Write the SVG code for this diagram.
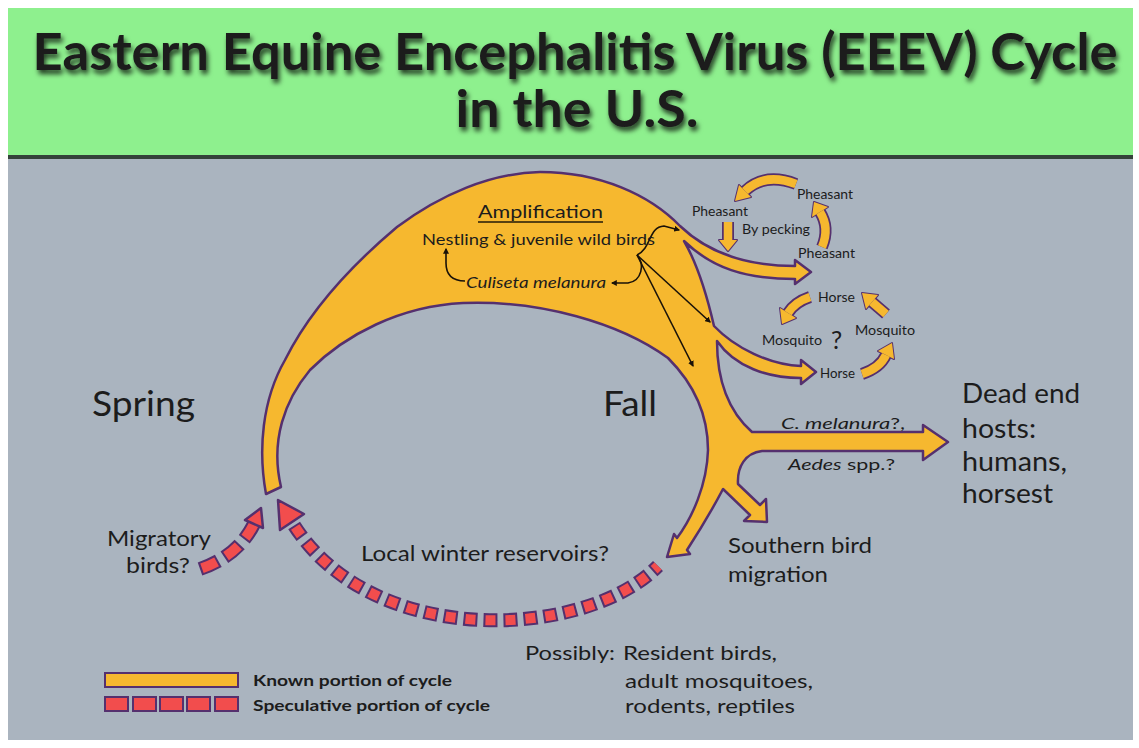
<svg xmlns="http://www.w3.org/2000/svg" width="1139" height="748" viewBox="0 0 1139 748">
<style>
.t{font-family:Lato,"Liberation Sans",sans-serif;fill:#1c1c1c}
.b{font-weight:bold}
.i{font-style:italic}
.yel{fill:#f6b82f;stroke:#55306e;stroke-width:2.5;stroke-linejoin:round}
.so{fill:none;stroke:#55306e;stroke-width:12}
.si{fill:none;stroke:#f6b82f;stroke-width:8.5}
.hd{fill:#f6b82f;stroke:#55306e;stroke-width:2;stroke-linejoin:round}
.hf{fill:#f6b82f}
.ro{fill:none;stroke:#55306e;stroke-width:14}
.ri{fill:none;stroke:#f24d4d;stroke-width:10}
.rh{fill:#f24d4d;stroke:#55306e;stroke-width:2.5;stroke-linejoin:round}
.bk{fill:none;stroke:#1a1208;stroke-width:1.6;marker-end:url(#ah)}
</style>
<defs>
<filter id="ts" x="-5%" y="-30%" width="110%" height="160%">
<feDropShadow dx="2" dy="4" stdDeviation="2.5" flood-color="#000" flood-opacity="0.75"/>
</filter>
<marker id="ah" viewBox="0 0 10 10" refX="8" refY="5" markerWidth="6" markerHeight="6" markerUnits="userSpaceOnUse" orient="auto">
<path d="M0,0 L10,5 L0,10 Z" fill="#1a1208"/>
</marker>
<polygon id="h1" points="751,197 739,185 735,201"/>
<polygon id="h2" points="719,240 737,240 728,251"/>
<polygon id="h3" points="828,207 812,217 814,202"/>
<polygon id="h4" points="796,318 780,308 782,324"/>
<polygon id="h5" points="878,295 866,309 862,293"/>
<polygon id="h6" points="894,359 878,351 892,343"/>
</defs>

<!-- background -->
<rect x="0" y="0" width="1139" height="748" fill="#ffffff"/>
<rect x="8" y="158" width="1125" height="582" fill="#aab4bf"/>
<rect x="8" y="8" width="1125" height="150" fill="#8ef08e"/>
<rect x="8" y="155" width="1125" height="4" fill="#34423a"/>

<g id="title" filter="url(#ts)">
<text class="t b" x="575" y="70" font-size="52" text-anchor="middle" textLength="1085" lengthAdjust="spacingAndGlyphs" fill="#111">Eastern Equine Encephalitis Virus (EEEV) Cycle</text>
<text class="t b" x="577" y="127" font-size="52" text-anchor="middle" textLength="243" lengthAdjust="spacingAndGlyphs" fill="#111">in the U.S.</text>
</g>

<g id="connectors">
<!-- main known cycle -->
<path id="main-cycle" class="yel" d="M266,494 C258,450 262,400 285,360 C305,320 340,275 397,227 C440,195 490,173 540,172 C600,172 650,195 680,226 C705,250 740,266 795,266 L795,260 L811,272 L795,284 L795,279 C745,279 712,268 684,241 C698,265 708,300 714,326 C735,348 770,365 801,366 L801,360 L816,372 L801,384 L801,378 C768,378 735,367 717,341 C717,380 727,410 752,432 L923,432 L923,425 L948,442 L923,460 L923,451 L762,451 C745,453 737,467 738,484 L760,505 L766,499 L767,522 L744,521 L750,515 L723,489 C712,510 700,530 687,550 L690,554 L667,557 L674,534 L677,538 C692,518 707,485 708,450 C708,415 695,385 668,358 C620,323 540,300 463,303 C400,306 345,335 310,370 C285,400 270,440 281,487 Z"/>

<!-- pheasant cycle -->
<g id="pheasant-arrows">
<path class="so" d="M796,184 Q765,172 745,191"/>
<path class="so" d="M728,222 L728,240"/>
<path class="so" d="M822,247 Q830,228 820,212"/>
<use href="#h1" class="hd"/><use href="#h2" class="hd"/><use href="#h3" class="hd"/>
<path class="si" d="M796,184 Q765,172 745,191"/>
<path class="si" d="M728,222 L728,240"/>
<path class="si" d="M822,247 Q830,228 820,212"/>
<use href="#h1" class="hf"/><use href="#h2" class="hf"/><use href="#h3" class="hf"/>
</g>

<!-- horse / mosquito cycle -->
<g id="horse-arrows">
<path class="so" d="M810,297 Q795,302 788,313"/>
<path class="so" d="M886,314 L872,302"/>
<path class="so" d="M862,374 Q880,368 886,355"/>
<use href="#h4" class="hd"/><use href="#h5" class="hd"/><use href="#h6" class="hd"/>
<path class="si" d="M810,297 Q795,302 788,313"/>
<path class="si" d="M886,314 L872,302"/>
<path class="si" d="M862,374 Q880,368 886,355"/>
<use href="#h4" class="hf"/><use href="#h5" class="hf"/><use href="#h6" class="hf"/>
</g>

<!-- speculative dashed arrows -->
<g id="winter-arrow">
<path class="ro" d="M292,522 C370,650 585,640 658,566" stroke-dasharray="14 6" stroke-dashoffset="-4"/>
<path class="ri" d="M292,522 C370,650 585,640 658,566" stroke-dasharray="10 10" stroke-dashoffset="-6"/>
<polygon class="rh" points="304,514 280,530 278,500"/>
</g>
<g id="migratory-arrow">
<path class="ro" d="M200,569 Q238,556 254,524" stroke-width="13" stroke-dasharray="20 7"/>
<path class="ri" d="M200,569 Q238,556 254,524" stroke-width="9" stroke-dasharray="16 11" stroke-dashoffset="-2"/>
<polygon class="rh" points="263,528 245,520 261,508"/>
</g>

<!-- black arrows -->
<g id="black-arrows">
<path class="bk" d="M637,255 C652,248 648,227 664,226 L679,230"/>
<path class="bk" d="M637,255 C645,264 642,281 628,283 L612,283"/>
<path class="bk" d="M637,255 L710,322"/>
<path class="bk" d="M637,255 L693,366"/>
<path class="bk" d="M465,281 C452,281 446,275 446,263 L446,249"/>
</g>
</g>

<g id="amplification">
<text class="t" x="478" y="218" font-size="18" textLength="125" lengthAdjust="spacingAndGlyphs" fill="#221a08">Amplification</text>
<line x1="478" y1="222" x2="603" y2="222" stroke="#221a08" stroke-width="1.3"/>
<text class="t" x="422" y="245" font-size="15" textLength="233" lengthAdjust="spacingAndGlyphs" fill="#221a08">Nestling &amp; juvenile wild birds</text>
<text class="t i" x="466" y="288" font-size="15" textLength="140" lengthAdjust="spacingAndGlyphs" fill="#221a08">Culiseta melanura</text>
</g>

<g id="pheasant-labels">
<text class="t" x="692" y="216" font-size="12.5" textLength="56" lengthAdjust="spacingAndGlyphs">Pheasant</text>
<text class="t" x="797" y="199" font-size="12.5" textLength="56" lengthAdjust="spacingAndGlyphs">Pheasant</text>
<text class="t" x="742" y="234" font-size="12.5" textLength="68" lengthAdjust="spacingAndGlyphs">By pecking</text>
<text class="t" x="798" y="258" font-size="12.5" textLength="57" lengthAdjust="spacingAndGlyphs">Pheasant</text>
</g>

<g id="horse-labels">
<text class="t" x="818" y="302" font-size="12.5" textLength="37" lengthAdjust="spacingAndGlyphs">Horse</text>
<text class="t" x="762" y="345" font-size="12.5" textLength="60" lengthAdjust="spacingAndGlyphs">Mosquito</text>
<text class="t" x="831" y="349" font-size="25">?</text>
<text class="t" x="855" y="335" font-size="12.5" textLength="60" lengthAdjust="spacingAndGlyphs">Mosquito</text>
<text class="t" x="820" y="378" font-size="12.5" textLength="35" lengthAdjust="spacingAndGlyphs">Horse</text>
</g>

<g id="seasons">
<text class="t" x="92" y="416" font-size="34" textLength="103" lengthAdjust="spacingAndGlyphs">Spring</text>
<text class="t" x="603" y="416" font-size="34" textLength="54" lengthAdjust="spacingAndGlyphs">Fall</text>
</g>

<g id="vectors">
<text class="t" x="781" y="429" font-size="16" textLength="124" lengthAdjust="spacingAndGlyphs"><tspan class="i">C. melanura</tspan>?,</text>
<text class="t" x="788" y="470" font-size="16" textLength="107" lengthAdjust="spacingAndGlyphs"><tspan class="i">Aedes</tspan> spp.?</text>
</g>

<g id="dead-end">
<text class="t" x="962" y="403" font-size="26" textLength="118" lengthAdjust="spacingAndGlyphs">Dead end</text>
<text class="t" x="962" y="438" font-size="26" textLength="74" lengthAdjust="spacingAndGlyphs">hosts:</text>
<text class="t" x="962" y="471" font-size="26" textLength="105" lengthAdjust="spacingAndGlyphs">humans,</text>
<text class="t" x="962" y="503" font-size="26" textLength="91" lengthAdjust="spacingAndGlyphs">horsest</text>
</g>

<g id="southern">
<text class="t" x="728" y="553" font-size="21" textLength="144" lengthAdjust="spacingAndGlyphs">Southern bird</text>
<text class="t" x="728" y="582" font-size="21" textLength="100" lengthAdjust="spacingAndGlyphs">migration</text>
</g>

<g id="migratory">
<text class="t" x="107" y="546" font-size="21" textLength="104" lengthAdjust="spacingAndGlyphs">Migratory</text>
<text class="t" x="126" y="573" font-size="21" textLength="64" lengthAdjust="spacingAndGlyphs">birds?</text>
</g>

<g id="winter">
<text class="t" x="361" y="561" font-size="21" textLength="248" lengthAdjust="spacingAndGlyphs">Local winter reservoirs?</text>
</g>

<g id="possibly">
<text class="t" x="525" y="660" font-size="19" textLength="90" lengthAdjust="spacingAndGlyphs">Possibly:</text>
<text class="t" x="623" y="660" font-size="19" textLength="154" lengthAdjust="spacingAndGlyphs">Resident birds,</text>
<text class="t" x="625" y="688" font-size="19" textLength="188" lengthAdjust="spacingAndGlyphs">adult mosquitoes,</text>
<text class="t" x="625" y="713" font-size="19" textLength="170" lengthAdjust="spacingAndGlyphs">rodents, reptiles</text>
</g>

<g id="legend">
<rect x="105" y="673" width="133" height="14" fill="#f6b82f" stroke="#55306e" stroke-width="2"/>
<rect x="105" y="697" width="23" height="14" fill="#f24d4d" stroke="#55306e" stroke-width="2"/>
<rect x="133" y="697" width="23" height="14" fill="#f24d4d" stroke="#55306e" stroke-width="2"/>
<rect x="160" y="697" width="23" height="14" fill="#f24d4d" stroke="#55306e" stroke-width="2"/>
<rect x="187" y="697" width="23" height="14" fill="#f24d4d" stroke="#55306e" stroke-width="2"/>
<rect x="215" y="697" width="23" height="14" fill="#f24d4d" stroke="#55306e" stroke-width="2"/>
<text class="t b" x="253" y="686" font-size="15" textLength="199" lengthAdjust="spacingAndGlyphs">Known portion of cycle</text>
<text class="t b" x="253" y="711" font-size="15" textLength="237" lengthAdjust="spacingAndGlyphs">Speculative portion of cycle</text>
</g>
</svg>
